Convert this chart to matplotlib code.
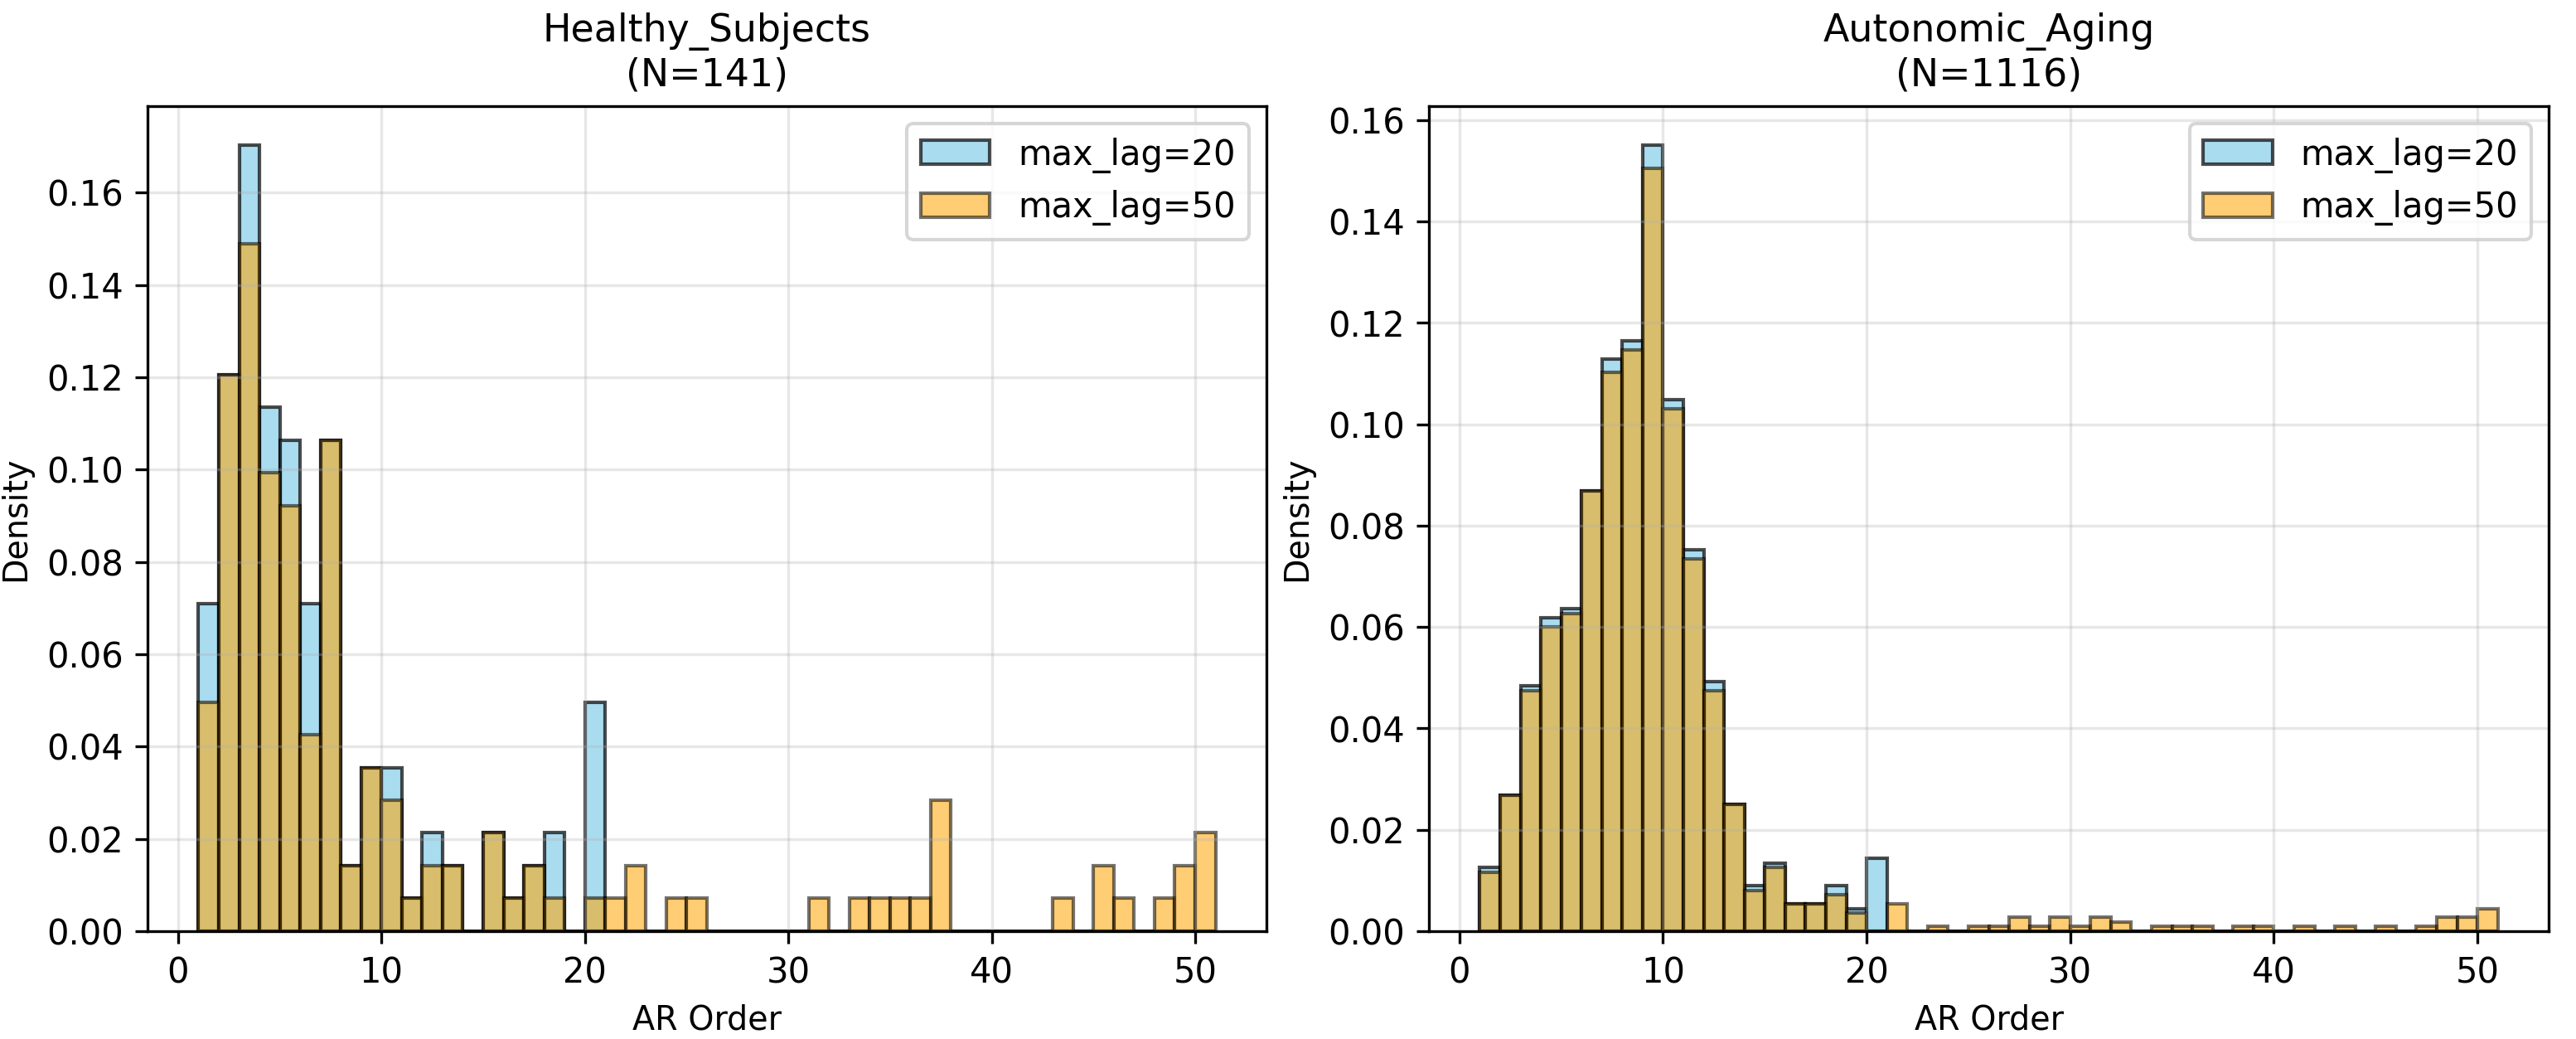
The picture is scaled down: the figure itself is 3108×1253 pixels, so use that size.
import matplotlib.pyplot as plt
import numpy as np

# AR order bins: [1,2), [2,3), ... [50,51]
bin_edges = np.arange(1, 52)
ar_orders = bin_edges[:-1]

# counts per AR order, Healthy_Subjects (N=141)
healthy_lag20 = [10, 17, 24, 16, 15, 10, 15, 2, 5, 5, 1, 3, 2, 0, 3, 1, 2, 3, 0, 7,
                 0, 0, 0, 0, 0, 0, 0, 0, 0, 0, 0, 0, 0, 0, 0, 0, 0, 0, 0, 0,
                 0, 0, 0, 0, 0, 0, 0, 0, 0, 0]
healthy_lag50 = [7, 17, 21, 14, 13, 6, 15, 2, 5, 4, 1, 2, 2, 0, 3, 1, 2, 1, 0, 1,
                 1, 2, 0, 1, 1, 0, 0, 0, 0, 0, 1, 0, 1, 1, 1, 1, 4, 0, 0, 0,
                 0, 0, 1, 0, 2, 1, 0, 1, 2, 3]

# counts per AR order, Autonomic_Aging (N=1116)
aging_lag20 = [14, 30, 54, 69, 71, 97, 126, 130, 173, 117, 84, 55, 28, 10, 15, 6, 6, 10, 5, 16,
               0, 0, 0, 0, 0, 0, 0, 0, 0, 0, 0, 0, 0, 0, 0, 0, 0, 0, 0, 0,
               0, 0, 0, 0, 0, 0, 0, 0, 0, 0]
aging_lag50 = [13, 30, 53, 67, 70, 97, 123, 128, 168, 115, 82, 53, 28, 9, 14, 6, 6, 8, 4, 0,
               6, 0, 1, 0, 1, 1, 3, 1, 3, 1, 3, 2, 0, 1, 1, 1, 0, 1, 1, 0,
               1, 0, 1, 0, 1, 0, 1, 3, 3, 5]

groups = ["Healthy_Subjects", "Autonomic_Aging"]
group_counts = [(healthy_lag20, healthy_lag50), (aging_lag20, aging_lag50)]

fig = plt.figure(figsize=(10.36, 4.177), dpi=300)
ax_rects = [[0.0573, 0.1038, 0.4343, 0.794],
            [0.5547, 0.1038, 0.4347, 0.794]]

for rect, name, (c20, c50) in zip(ax_rects, groups, group_counts):
    ax = fig.add_axes(rect)
    n = sum(c20)
    ax.hist(ar_orders + 0.5, bins=bin_edges, weights=c20, density=True,
            alpha=0.7, color='skyblue', edgecolor='black', label='max_lag=20')
    ax.hist(ar_orders + 0.5, bins=bin_edges, weights=c50, density=True,
            alpha=0.55, color='orange', edgecolor='black', label='max_lag=50')
    ax.set_title(name + "\n(N=" + str(n) + ")", fontsize=11)
    ax.set_xlabel("AR Order", fontsize=9.5)
    ax.set_ylabel("Density", fontsize=9.5)
    ax.legend(loc='upper right')
    ax.grid(True, alpha=0.3)

plt.savefig("out.png", dpi=300)
